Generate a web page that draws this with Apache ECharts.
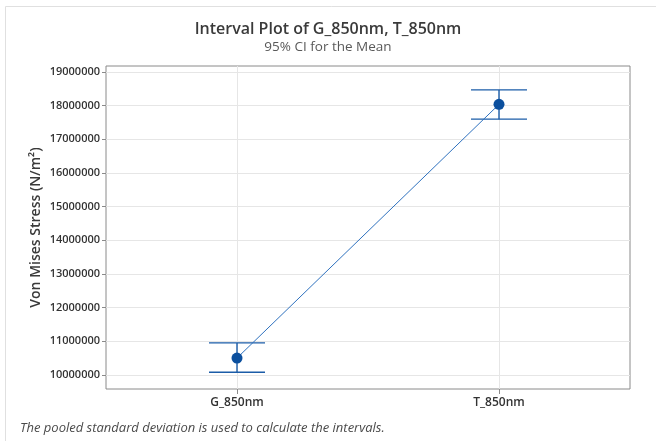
<!DOCTYPE html>
<html><head><meta charset="utf-8">
<script src="https://cdn.jsdelivr.net/npm/echarts@6/dist/echarts.min.js"></script>
<style>html,body{margin:0;padding:0;background:#fff}#c{width:656px;height:441px}</style>
</head><body><div id="c"></div>
<script>
const categories = ['G_850nm', 'T_850nm'];
const means = [10500000, 18040000];
const lowerCI = [10080000, 17600000];
const upperCI = [10950000, 18470000];
const yTicks = [10000000, 11000000, 12000000, 13000000, 14000000, 15000000, 16000000, 17000000, 18000000, 19000000];

const chart = echarts.init(document.getElementById('c'), null, {renderer: 'canvas'});
const font = '"Open Sans", "Noto Sans", sans-serif';
const idx = categories.map((c, i) => i);

chart.setOption({
  animation: false,
  backgroundColor: '#fff',
  title: {
    text: 'Interval Plot of G_850nm, T_850nm',
    subtext: '95% CI for the Mean',
    left: 'center', top: 16, itemGap: 3,
    textStyle: {fontFamily: font, fontSize: 16, fontWeight: 600, color: '#3a3a3a'},
    subtextStyle: {fontFamily: font, fontSize: 13.5, color: '#595959'}
  },
  graphic: [
    {type: 'polyline', shape: {points: [[5.5, 450], [5.5, 6.5], [700, 6.5]]}, style: {stroke: '#e0e0e0', lineWidth: 1, fill: null}},
    {type: 'text', left: 20, top: 422, style: {text: 'The pooled standard deviation is used to calculate the intervals.', font: 'italic 13px "Open Sans", sans-serif', fill: '#4a4a4a'}}
  ],
  grid: {left: 106, right: 26, top: 66, bottom: 52, show: true, borderColor: '#8a8a8a', borderWidth: 1},
  xAxis: {
    type: 'value', min: -0.5, max: 1.5,
    axisLine: {show: false, onZero: false},
    axisTick: {show: true, length: 5, customValues: idx, lineStyle: {color: '#8a8a8a'}},
    axisLabel: {customValues: idx, formatter: v => categories[Math.round(v)], fontFamily: font, fontSize: 12, fontWeight: 600, color: '#333', margin: 8},
    splitLine: {show: true, lineStyle: {color: '#e6e6e6'}}
  },
  yAxis: {
    type: 'value', min: 9580000, max: 19180000,
    name: 'Von Mises Stress (N/m²)', nameLocation: 'middle', nameGap: 63, nameMoveOverlap: false,
    nameTextStyle: {fontFamily: font, fontSize: 14, fontWeight: 600, color: '#3a3a3a'},
    axisLine: {show: false, onZero: false},
    axisTick: {show: true, length: 4, customValues: yTicks, lineStyle: {color: '#8a8a8a'}},
    axisLabel: {customValues: yTicks, formatter: v => String(v), fontFamily: font, fontSize: 11, fontWeight: 600, color: '#333', margin: 6},
    splitLine: {show: true, lineStyle: {color: '#e6e6e6'}}
  },
  series: [
    {
      type: 'custom',
      data: idx.map(i => [i, lowerCI[i], upperCI[i]]),
      renderItem: function (params, api) {
        const x = api.value(0);
        const lo = api.coord([x, api.value(1)]);
        const hi = api.coord([x, api.value(2)]);
        const hw = 28;
        const st = {stroke: '#1b5ca8', lineWidth: 1.4};
        return {type: 'group', children: [
          {type: 'line', shape: {x1: lo[0], y1: lo[1], x2: hi[0], y2: hi[1]}, style: st},
          {type: 'line', shape: {x1: lo[0] - hw, y1: lo[1], x2: lo[0] + hw, y2: lo[1]}, style: st},
          {type: 'line', shape: {x1: hi[0] - hw, y1: hi[1], x2: hi[0] + hw, y2: hi[1]}, style: st}
        ]};
      },
      z: 2
    },
    {
      type: 'line',
      data: idx.map(i => [i, means[i]]),
      symbol: 'circle', symbolSize: 11,
      lineStyle: {color: '#2f72bf', width: 1},
      itemStyle: {color: '#0b4f9e'},
      z: 3
    }
  ]
});
</script></body></html>
